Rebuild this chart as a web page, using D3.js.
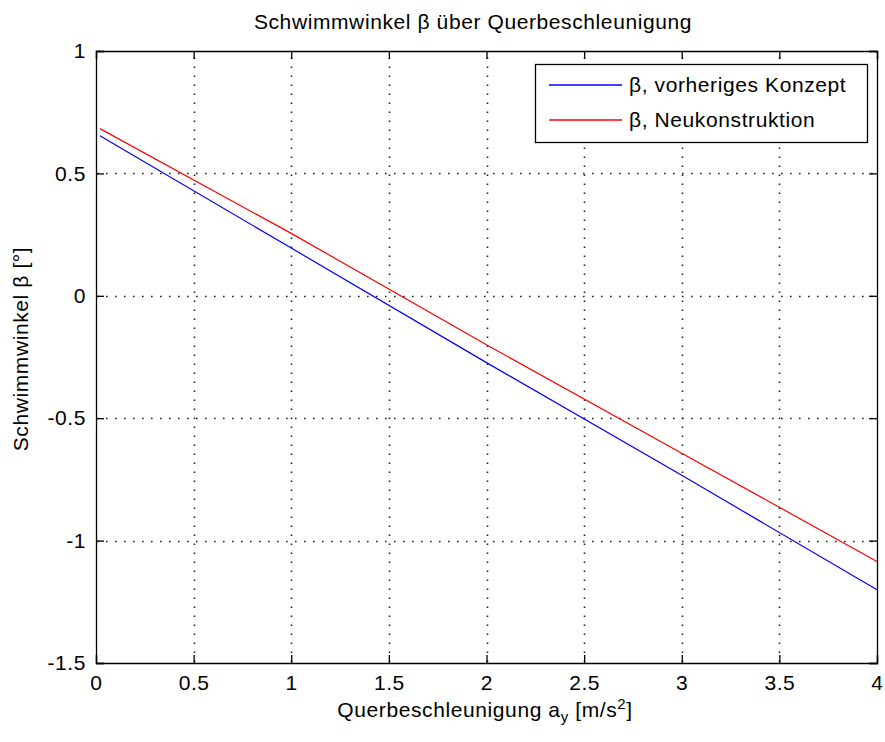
<!DOCTYPE html>
<html>
<head>
<meta charset="utf-8">
<script src="https://cdn.jsdelivr.net/npm/d3@7"></script>
<style>
  html, body { margin: 0; padding: 0; background: #fff; }
  svg text { font-family: "Liberation Sans", Arial, Helvetica, sans-serif; fill: #000; letter-spacing: 0.6px; }
</style>
</head>
<body>
<svg id="chart" width="885" height="742"></svg>
<script>
// Lateral acceleration a_y [m/s²]
const accel = [0.02, 1, 2, 3, 4];
// Sideslip angle β [°], previous concept
const betaPrevious = [0.654, 0.195, -0.273, -0.733, -1.201];
// Sideslip angle β [°], new design
const betaNew = [0.683, 0.255, -0.200, -0.643, -1.085];

const xTicks = [0, 0.5, 1, 1.5, 2, 2.5, 3, 3.5, 4];
const yTicks = [1, 0.5, 0, -0.5, -1, -1.5];

const seriesNames = ["β, vorheriges Konzept", "β, Neukonstruktion"];
const seriesColors = ["#0000ff", "#ff0000"];

const margin = { left: 96, right: 8, top: 51, bottom: 79 };
const W = 885, H = 742;
const svg = d3.select("#chart");

const x = d3.scaleLinear().domain([0, 4]).range([margin.left, W - margin.right]);
const y = d3.scaleLinear().domain([-1.5, 1]).range([H - margin.bottom, margin.top]);

const x0 = x.range()[0], x1 = x.range()[1];
const y0 = y.range()[0], y1 = y.range()[1];
const fontSize = 21;
// plain hyphen for negative numbers
const fmt = v => String(v);

// dotted grid
const grid = svg.append("g").attr("stroke", "#222").attr("stroke-width", 1.6)
  .attr("stroke-dasharray", "1.6,7.4").attr("fill", "none");
xTicks.filter(v => v > 0 && v < 4).forEach(v => {
  grid.append("line").attr("x1", Math.round(x(v)) + 0.5).attr("x2", Math.round(x(v)) + 0.5)
    .attr("y1", y0 - 1).attr("y2", y1);
});
yTicks.filter(v => v > -1.5 && v < 1).forEach(v => {
  grid.append("line").attr("y1", Math.round(y(v)) + 0.5).attr("y2", Math.round(y(v)) + 0.5)
    .attr("x1", x0 + 1).attr("x2", x1);
});

// data lines
const line = d3.line().x((d, i) => x(accel[i])).y(d => y(d));
[betaPrevious, betaNew].forEach((s, k) => {
  svg.append("path").datum(s).attr("d", line).attr("fill", "none")
    .attr("stroke", seriesColors[k]).attr("stroke-width", 1.2);
});

// axes with inward ticks on all four sides
const tickLen = 8;
const axBottom = d3.axisBottom(x).tickValues(xTicks).tickSize(-tickLen).tickPadding(12).tickFormat(fmt);
const axTop = d3.axisTop(x).tickValues(xTicks).tickSize(-tickLen).tickFormat("");
const axLeft = d3.axisLeft(y).tickValues(yTicks).tickSize(-tickLen).tickPadding(10).tickFormat(fmt);
const axRight = d3.axisRight(y).tickValues(yTicks).tickSize(-tickLen).tickFormat("");

function styleAxis(g) {
  g.selectAll("path.domain").attr("stroke", "#000").attr("stroke-width", 1.3);
  g.selectAll(".tick line").attr("stroke", "#000").attr("stroke-width", 1.3);
  g.selectAll(".tick text").attr("font-size", fontSize)
    .attr("font-family", "'Liberation Sans', Arial, sans-serif").attr("fill", "#000");
}
svg.append("g").attr("transform", `translate(0,${y0})`).call(axBottom).call(styleAxis)
  .selectAll(".tick text").attr("dy", "0.71em");
svg.append("g").attr("transform", `translate(0,${y1})`).call(axTop).call(styleAxis);
svg.append("g").attr("transform", `translate(${x0},0)`).call(axLeft).call(styleAxis);
svg.append("g").attr("transform", `translate(${x1},0)`).call(axRight).call(styleAxis);

// title
svg.append("text").attr("x", 473).attr("y", 29).attr("text-anchor", "middle")
  .attr("font-size", fontSize).text("Schwimmwinkel β über Querbeschleunigung");

// x axis label with subscript and superscript
const xl = svg.append("text").attr("x", 485).attr("y", 717).attr("text-anchor", "middle")
  .attr("font-size", fontSize);
xl.append("tspan").text("Querbeschleunigung a");
xl.append("tspan").attr("font-size", 15).attr("dy", 5).text("y");
xl.append("tspan").attr("dy", -5).text(" [m/s");
xl.append("tspan").attr("font-size", 15).attr("dy", -8).text("2");
xl.append("tspan").attr("dy", 8).text("]");

// y axis label
svg.append("text").attr("transform", `translate(28,349) rotate(-90)`)
  .attr("text-anchor", "middle").attr("font-size", fontSize).text("Schwimmwinkel β [°]");

// legend
const lg = svg.append("g");
lg.append("rect").attr("x", 535.5).attr("y", 64.5).attr("width", 332).attr("height", 78)
  .attr("fill", "#fff").attr("stroke", "#000").attr("stroke-width", 1.3);
seriesNames.forEach((name, k) => {
  const ly = 85 + k * 35;
  lg.append("line").attr("x1", 549).attr("x2", 622).attr("y1", ly).attr("y2", ly)
    .attr("stroke", seriesColors[k]).attr("stroke-width", 1.3);
  lg.append("text").attr("x", 629).attr("y", ly).attr("dy", "0.35em")
    .attr("font-size", fontSize).text(name);
});
</script>
</body>
</html>
